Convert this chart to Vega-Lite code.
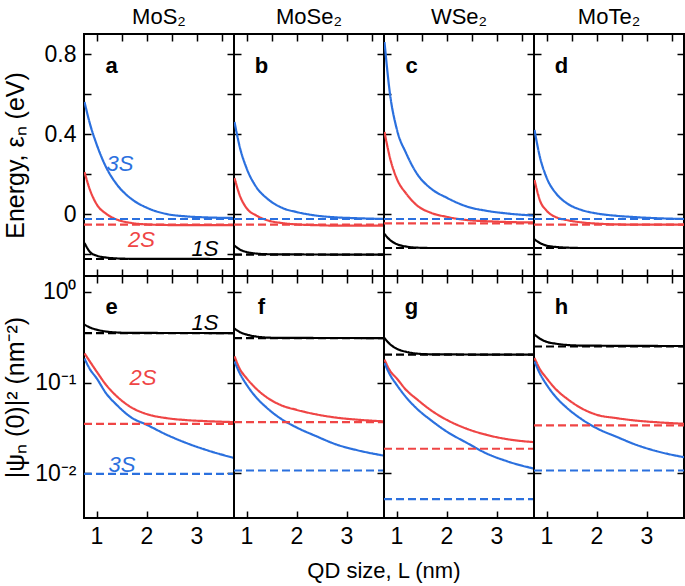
{
"$schema":"https://vega.github.io/schema/vega-lite/v6.json",
"background":"white",
"padding":{"left":2,"top":5,"right":1,"bottom":2},
"title":{"text":"QD size,  L (nm)","orient":"bottom","anchor":"middle","frame":"bounds","dx":40,"fontSize":22,"fontWeight":"normal","offset":12},
"config":{
 "font":"Liberation Sans",
 "view":{"stroke":"black","strokeWidth":2},
 "axis":{"grid":false,"domain":false,"ticks":true,"tickSize":-7,"tickWidth":1.5,"tickColor":"black","labelFontSize":23,"labelColor":"black","titleFontSize":25,"titleColor":"black","titleFontWeight":"normal"},
 "title":{"fontSize":22,"fontWeight":"normal","color":"black","offset":4},
 "concat":{"spacing":0}
},
"datasets":{
"lab":[
{"m":"MoS2","q":"E","k":"l","s":"1S","L":1.3,"v":0.74,"txt":"a"},
{"m":"MoSe2","q":"E","k":"l","s":"1S","L":1.3,"v":0.74,"txt":"b"},
{"m":"WSe2","q":"E","k":"l","s":"1S","L":1.3,"v":0.74,"txt":"c"},
{"m":"MoTe2","q":"E","k":"l","s":"1S","L":1.3,"v":0.74,"txt":"d"},
{"m":"MoS2","q":"P","k":"l","s":"1S","L":1.3,"v":0.69,"txt":"e"},
{"m":"MoSe2","q":"P","k":"l","s":"1S","L":1.3,"v":0.69,"txt":"f"},
{"m":"WSe2","q":"P","k":"l","s":"1S","L":1.3,"v":0.69,"txt":"g"},
{"m":"MoTe2","q":"P","k":"l","s":"1S","L":1.3,"v":0.69,"txt":"h"},
{"m":"MoS2","q":"E","k":"s","s":"3S","L":1.47,"v":0.25,"txt":"3S"},
{"m":"MoS2","q":"E","k":"s","s":"2S","L":1.9,"v":-0.13,"txt":"2S"},
{"m":"MoS2","q":"E","k":"s","s":"1S","L":3.17,"v":-0.175,"txt":"1S"},
{"m":"MoS2","q":"P","k":"s","s":"1S","L":3.17,"v":0.455,"txt":"1S"},
{"m":"MoS2","q":"P","k":"s","s":"2S","L":1.93,"v":0.112,"txt":"2S"},
{"m":"MoS2","q":"P","k":"s","s":"3S","L":1.51,"v":0.0124,"txt":"3S"}
],
"c":[
{"m":"MoS2","q":"E","s":"3S","t":"s","L":0.76,"v":0.56},{"m":"MoS2","q":"E","s":"3S","t":"s","L":0.87,"v":0.45},{"m":"MoS2","q":"E","s":"3S","t":"s","L":1.0,"v":0.35},{"m":"MoS2","q":"E","s":"3S","t":"s","L":1.2,"v":0.23},{"m":"MoS2","q":"E","s":"3S","t":"s","L":1.4,"v":0.15},{"m":"MoS2","q":"E","s":"3S","t":"s","L":1.7,"v":0.075},{"m":"MoS2","q":"E","s":"3S","t":"s","L":2.0,"v":0.032},{"m":"MoS2","q":"E","s":"3S","t":"s","L":2.4,"v":0.0},{"m":"MoS2","q":"E","s":"3S","t":"s","L":2.8,"v":-0.012},{"m":"MoS2","q":"E","s":"3S","t":"s","L":3.2,"v":-0.017},{"m":"MoS2","q":"E","s":"3S","t":"s","L":3.75,"v":-0.02},
{"m":"MoS2","q":"E","s":"2S","t":"s","L":0.76,"v":0.21},{"m":"MoS2","q":"E","s":"2S","t":"s","L":0.87,"v":0.12},{"m":"MoS2","q":"E","s":"2S","t":"s","L":1.0,"v":0.05},{"m":"MoS2","q":"E","s":"2S","t":"s","L":1.2,"v":0.0},{"m":"MoS2","q":"E","s":"2S","t":"s","L":1.4,"v":-0.027},{"m":"MoS2","q":"E","s":"2S","t":"s","L":1.7,"v":-0.045},{"m":"MoS2","q":"E","s":"2S","t":"s","L":2.0,"v":-0.052},{"m":"MoS2","q":"E","s":"2S","t":"s","L":2.4,"v":-0.055},{"m":"MoS2","q":"E","s":"2S","t":"s","L":2.8,"v":-0.056},{"m":"MoS2","q":"E","s":"2S","t":"s","L":3.2,"v":-0.056},{"m":"MoS2","q":"E","s":"2S","t":"s","L":3.75,"v":-0.056},
{"m":"MoS2","q":"E","s":"1S","t":"s","L":0.76,"v":-0.145},{"m":"MoS2","q":"E","s":"1S","t":"s","L":0.87,"v":-0.19},{"m":"MoS2","q":"E","s":"1S","t":"s","L":1.0,"v":-0.208},{"m":"MoS2","q":"E","s":"1S","t":"s","L":1.2,"v":-0.218},{"m":"MoS2","q":"E","s":"1S","t":"s","L":1.4,"v":-0.222},{"m":"MoS2","q":"E","s":"1S","t":"s","L":1.7,"v":-0.224},{"m":"MoS2","q":"E","s":"1S","t":"s","L":3.75,"v":-0.225},
{"m":"MoSe2","q":"E","s":"3S","t":"s","L":0.76,"v":0.46},{"m":"MoSe2","q":"E","s":"3S","t":"s","L":0.87,"v":0.33},{"m":"MoSe2","q":"E","s":"3S","t":"s","L":1.0,"v":0.23},{"m":"MoSe2","q":"E","s":"3S","t":"s","L":1.2,"v":0.133},{"m":"MoSe2","q":"E","s":"3S","t":"s","L":1.4,"v":0.08},{"m":"MoSe2","q":"E","s":"3S","t":"s","L":1.7,"v":0.032},{"m":"MoSe2","q":"E","s":"3S","t":"s","L":2.0,"v":0.01},{"m":"MoSe2","q":"E","s":"3S","t":"s","L":2.4,"v":-0.008},{"m":"MoSe2","q":"E","s":"3S","t":"s","L":2.8,"v":-0.017},{"m":"MoSe2","q":"E","s":"3S","t":"s","L":3.2,"v":-0.021},{"m":"MoSe2","q":"E","s":"3S","t":"s","L":3.75,"v":-0.025},
{"m":"MoSe2","q":"E","s":"2S","t":"s","L":0.76,"v":0.18},{"m":"MoSe2","q":"E","s":"2S","t":"s","L":0.87,"v":0.09},{"m":"MoSe2","q":"E","s":"2S","t":"s","L":1.0,"v":0.03},{"m":"MoSe2","q":"E","s":"2S","t":"s","L":1.2,"v":-0.008},{"m":"MoSe2","q":"E","s":"2S","t":"s","L":1.4,"v":-0.03},{"m":"MoSe2","q":"E","s":"2S","t":"s","L":1.7,"v":-0.045},{"m":"MoSe2","q":"E","s":"2S","t":"s","L":2.0,"v":-0.052},{"m":"MoSe2","q":"E","s":"2S","t":"s","L":2.4,"v":-0.056},{"m":"MoSe2","q":"E","s":"2S","t":"s","L":2.8,"v":-0.058},{"m":"MoSe2","q":"E","s":"2S","t":"s","L":3.2,"v":-0.058},{"m":"MoSe2","q":"E","s":"2S","t":"s","L":3.75,"v":-0.058},
{"m":"MoSe2","q":"E","s":"1S","t":"s","L":0.76,"v":-0.158},{"m":"MoSe2","q":"E","s":"1S","t":"s","L":0.87,"v":-0.178},{"m":"MoSe2","q":"E","s":"1S","t":"s","L":1.0,"v":-0.19},{"m":"MoSe2","q":"E","s":"1S","t":"s","L":1.2,"v":-0.198},{"m":"MoSe2","q":"E","s":"1S","t":"s","L":1.4,"v":-0.201},{"m":"MoSe2","q":"E","s":"1S","t":"s","L":1.7,"v":-0.202},{"m":"MoSe2","q":"E","s":"1S","t":"s","L":3.75,"v":-0.203},
{"m":"WSe2","q":"E","s":"3S","t":"s","L":0.76,"v":0.86},{"m":"WSe2","q":"E","s":"3S","t":"s","L":0.87,"v":0.6},{"m":"WSe2","q":"E","s":"3S","t":"s","L":1.0,"v":0.43},{"m":"WSe2","q":"E","s":"3S","t":"s","L":1.2,"v":0.3},{"m":"WSe2","q":"E","s":"3S","t":"s","L":1.4,"v":0.205},{"m":"WSe2","q":"E","s":"3S","t":"s","L":1.7,"v":0.125},{"m":"WSe2","q":"E","s":"3S","t":"s","L":2.0,"v":0.082},{"m":"WSe2","q":"E","s":"3S","t":"s","L":2.4,"v":0.038},{"m":"WSe2","q":"E","s":"3S","t":"s","L":2.8,"v":0.016},{"m":"WSe2","q":"E","s":"3S","t":"s","L":3.2,"v":0.003},{"m":"WSe2","q":"E","s":"3S","t":"s","L":3.75,"v":-0.008},
{"m":"WSe2","q":"E","s":"2S","t":"s","L":0.76,"v":0.41},{"m":"WSe2","q":"E","s":"2S","t":"s","L":0.87,"v":0.28},{"m":"WSe2","q":"E","s":"2S","t":"s","L":1.0,"v":0.18},{"m":"WSe2","q":"E","s":"2S","t":"s","L":1.2,"v":0.1},{"m":"WSe2","q":"E","s":"2S","t":"s","L":1.4,"v":0.045},{"m":"WSe2","q":"E","s":"2S","t":"s","L":1.7,"v":0.005},{"m":"WSe2","q":"E","s":"2S","t":"s","L":2.0,"v":-0.014},{"m":"WSe2","q":"E","s":"2S","t":"s","L":2.4,"v":-0.03},{"m":"WSe2","q":"E","s":"2S","t":"s","L":2.8,"v":-0.036},{"m":"WSe2","q":"E","s":"2S","t":"s","L":3.2,"v":-0.04},{"m":"WSe2","q":"E","s":"2S","t":"s","L":3.75,"v":-0.042},
{"m":"WSe2","q":"E","s":"1S","t":"s","L":0.76,"v":-0.1},{"m":"WSe2","q":"E","s":"1S","t":"s","L":0.87,"v":-0.13},{"m":"WSe2","q":"E","s":"1S","t":"s","L":1.0,"v":-0.15},{"m":"WSe2","q":"E","s":"1S","t":"s","L":1.2,"v":-0.163},{"m":"WSe2","q":"E","s":"1S","t":"s","L":1.4,"v":-0.168},{"m":"WSe2","q":"E","s":"1S","t":"s","L":1.7,"v":-0.17},{"m":"WSe2","q":"E","s":"1S","t":"s","L":3.75,"v":-0.17},
{"m":"MoTe2","q":"E","s":"3S","t":"s","L":0.76,"v":0.42},{"m":"MoTe2","q":"E","s":"3S","t":"s","L":0.87,"v":0.283},{"m":"MoTe2","q":"E","s":"3S","t":"s","L":1.0,"v":0.183},{"m":"MoTe2","q":"E","s":"3S","t":"s","L":1.2,"v":0.1},{"m":"MoTe2","q":"E","s":"3S","t":"s","L":1.4,"v":0.055},{"m":"MoTe2","q":"E","s":"3S","t":"s","L":1.7,"v":0.02},{"m":"MoTe2","q":"E","s":"3S","t":"s","L":2.0,"v":0.003},{"m":"MoTe2","q":"E","s":"3S","t":"s","L":2.4,"v":-0.009},{"m":"MoTe2","q":"E","s":"3S","t":"s","L":2.8,"v":-0.016},{"m":"MoTe2","q":"E","s":"3S","t":"s","L":3.2,"v":-0.021},{"m":"MoTe2","q":"E","s":"3S","t":"s","L":3.75,"v":-0.025},
{"m":"MoTe2","q":"E","s":"2S","t":"s","L":0.76,"v":0.17},{"m":"MoTe2","q":"E","s":"2S","t":"s","L":0.87,"v":0.067},{"m":"MoTe2","q":"E","s":"2S","t":"s","L":1.0,"v":0.017},{"m":"MoTe2","q":"E","s":"2S","t":"s","L":1.2,"v":-0.017},{"m":"MoTe2","q":"E","s":"2S","t":"s","L":1.4,"v":-0.03},{"m":"MoTe2","q":"E","s":"2S","t":"s","L":1.7,"v":-0.042},{"m":"MoTe2","q":"E","s":"2S","t":"s","L":2.0,"v":-0.048},{"m":"MoTe2","q":"E","s":"2S","t":"s","L":2.4,"v":-0.052},{"m":"MoTe2","q":"E","s":"2S","t":"s","L":2.8,"v":-0.053},{"m":"MoTe2","q":"E","s":"2S","t":"s","L":3.2,"v":-0.053},{"m":"MoTe2","q":"E","s":"2S","t":"s","L":3.75,"v":-0.053},
{"m":"MoTe2","q":"E","s":"1S","t":"s","L":0.76,"v":-0.127},{"m":"MoTe2","q":"E","s":"1S","t":"s","L":0.87,"v":-0.145},{"m":"MoTe2","q":"E","s":"1S","t":"s","L":1.0,"v":-0.158},{"m":"MoTe2","q":"E","s":"1S","t":"s","L":1.2,"v":-0.165},{"m":"MoTe2","q":"E","s":"1S","t":"s","L":1.4,"v":-0.168},{"m":"MoTe2","q":"E","s":"1S","t":"s","L":1.7,"v":-0.17},{"m":"MoTe2","q":"E","s":"1S","t":"s","L":3.75,"v":-0.17},
{"m":"MoS2","q":"E","s":"1S","t":"d","L":0.75,"v":-0.225},{"m":"MoS2","q":"E","s":"1S","t":"d","L":3.75,"v":-0.225},{"m":"MoS2","q":"E","s":"2S","t":"d","L":0.75,"v":-0.053},{"m":"MoS2","q":"E","s":"2S","t":"d","L":3.75,"v":-0.053},{"m":"MoS2","q":"E","s":"3S","t":"d","L":0.75,"v":-0.025},{"m":"MoS2","q":"E","s":"3S","t":"d","L":3.75,"v":-0.025},
{"m":"MoSe2","q":"E","s":"1S","t":"d","L":0.75,"v":-0.203},{"m":"MoSe2","q":"E","s":"1S","t":"d","L":3.75,"v":-0.203},{"m":"MoSe2","q":"E","s":"2S","t":"d","L":0.75,"v":-0.053},{"m":"MoSe2","q":"E","s":"2S","t":"d","L":3.75,"v":-0.053},{"m":"MoSe2","q":"E","s":"3S","t":"d","L":0.75,"v":-0.025},{"m":"MoSe2","q":"E","s":"3S","t":"d","L":3.75,"v":-0.025},
{"m":"WSe2","q":"E","s":"1S","t":"d","L":0.75,"v":-0.17},{"m":"WSe2","q":"E","s":"1S","t":"d","L":3.75,"v":-0.17},{"m":"WSe2","q":"E","s":"2S","t":"d","L":0.75,"v":-0.047},{"m":"WSe2","q":"E","s":"2S","t":"d","L":3.75,"v":-0.047},{"m":"WSe2","q":"E","s":"3S","t":"d","L":0.75,"v":-0.025},{"m":"WSe2","q":"E","s":"3S","t":"d","L":3.75,"v":-0.025},
{"m":"MoTe2","q":"E","s":"1S","t":"d","L":0.75,"v":-0.17},{"m":"MoTe2","q":"E","s":"1S","t":"d","L":3.75,"v":-0.17},{"m":"MoTe2","q":"E","s":"2S","t":"d","L":0.75,"v":-0.053},{"m":"MoTe2","q":"E","s":"2S","t":"d","L":3.75,"v":-0.053},{"m":"MoTe2","q":"E","s":"3S","t":"d","L":0.75,"v":-0.025},{"m":"MoTe2","q":"E","s":"3S","t":"d","L":3.75,"v":-0.025},
{"m":"MoS2","q":"P","s":"1S","t":"s","L":0.76,"v":0.436},{"m":"MoS2","q":"P","s":"1S","t":"s","L":0.87,"v":0.405},{"m":"MoS2","q":"P","s":"1S","t":"s","L":1.0,"v":0.384},{"m":"MoS2","q":"P","s":"1S","t":"s","L":1.2,"v":0.365},{"m":"MoS2","q":"P","s":"1S","t":"s","L":1.4,"v":0.357},{"m":"MoS2","q":"P","s":"1S","t":"s","L":1.7,"v":0.353},{"m":"MoS2","q":"P","s":"1S","t":"s","L":3.75,"v":0.352},
{"m":"MoS2","q":"P","s":"2S","t":"s","L":0.76,"v":0.21},{"m":"MoS2","q":"P","s":"2S","t":"s","L":0.87,"v":0.17},{"m":"MoS2","q":"P","s":"2S","t":"s","L":1.0,"v":0.133},{"m":"MoS2","q":"P","s":"2S","t":"s","L":1.2,"v":0.093},{"m":"MoS2","q":"P","s":"2S","t":"s","L":1.4,"v":0.071},{"m":"MoS2","q":"P","s":"2S","t":"s","L":1.7,"v":0.053},{"m":"MoS2","q":"P","s":"2S","t":"s","L":2.0,"v":0.045},{"m":"MoS2","q":"P","s":"2S","t":"s","L":2.4,"v":0.0405},{"m":"MoS2","q":"P","s":"2S","t":"s","L":2.8,"v":0.0385},{"m":"MoS2","q":"P","s":"2S","t":"s","L":3.2,"v":0.0375},{"m":"MoS2","q":"P","s":"2S","t":"s","L":3.75,"v":0.0366},
{"m":"MoS2","q":"P","s":"3S","t":"s","L":0.76,"v":0.184},{"m":"MoS2","q":"P","s":"3S","t":"s","L":0.87,"v":0.14},{"m":"MoS2","q":"P","s":"3S","t":"s","L":1.0,"v":0.112},{"m":"MoS2","q":"P","s":"3S","t":"s","L":1.2,"v":0.075},{"m":"MoS2","q":"P","s":"3S","t":"s","L":1.4,"v":0.057},{"m":"MoS2","q":"P","s":"3S","t":"s","L":1.7,"v":0.041},{"m":"MoS2","q":"P","s":"3S","t":"s","L":2.0,"v":0.0343},{"m":"MoS2","q":"P","s":"3S","t":"s","L":2.4,"v":0.0266},{"m":"MoS2","q":"P","s":"3S","t":"s","L":2.8,"v":0.0215},{"m":"MoS2","q":"P","s":"3S","t":"s","L":3.2,"v":0.018},{"m":"MoS2","q":"P","s":"3S","t":"s","L":3.75,"v":0.0147},
{"m":"MoSe2","q":"P","s":"1S","t":"s","L":0.76,"v":0.394},{"m":"MoSe2","q":"P","s":"1S","t":"s","L":0.87,"v":0.36},{"m":"MoSe2","q":"P","s":"1S","t":"s","L":1.0,"v":0.339},{"m":"MoSe2","q":"P","s":"1S","t":"s","L":1.2,"v":0.322},{"m":"MoSe2","q":"P","s":"1S","t":"s","L":1.4,"v":0.314},{"m":"MoSe2","q":"P","s":"1S","t":"s","L":1.7,"v":0.311},{"m":"MoSe2","q":"P","s":"1S","t":"s","L":3.75,"v":0.31},
{"m":"MoSe2","q":"P","s":"2S","t":"s","L":0.76,"v":0.195},{"m":"MoSe2","q":"P","s":"2S","t":"s","L":0.87,"v":0.14},{"m":"MoSe2","q":"P","s":"2S","t":"s","L":1.0,"v":0.112},{"m":"MoSe2","q":"P","s":"2S","t":"s","L":1.2,"v":0.085},{"m":"MoSe2","q":"P","s":"2S","t":"s","L":1.4,"v":0.069},{"m":"MoSe2","q":"P","s":"2S","t":"s","L":1.7,"v":0.056},{"m":"MoSe2","q":"P","s":"2S","t":"s","L":2.0,"v":0.05},{"m":"MoSe2","q":"P","s":"2S","t":"s","L":2.4,"v":0.0445},{"m":"MoSe2","q":"P","s":"2S","t":"s","L":2.8,"v":0.041},{"m":"MoSe2","q":"P","s":"2S","t":"s","L":3.2,"v":0.039},{"m":"MoSe2","q":"P","s":"2S","t":"s","L":3.75,"v":0.0373},
{"m":"MoSe2","q":"P","s":"3S","t":"s","L":0.76,"v":0.171},{"m":"MoSe2","q":"P","s":"3S","t":"s","L":0.87,"v":0.125},{"m":"MoSe2","q":"P","s":"3S","t":"s","L":1.0,"v":0.095},{"m":"MoSe2","q":"P","s":"3S","t":"s","L":1.2,"v":0.068},{"m":"MoSe2","q":"P","s":"3S","t":"s","L":1.4,"v":0.053},{"m":"MoSe2","q":"P","s":"3S","t":"s","L":1.7,"v":0.0395},{"m":"MoSe2","q":"P","s":"3S","t":"s","L":2.0,"v":0.032},{"m":"MoSe2","q":"P","s":"3S","t":"s","L":2.4,"v":0.0255},{"m":"MoSe2","q":"P","s":"3S","t":"s","L":2.8,"v":0.0207},{"m":"MoSe2","q":"P","s":"3S","t":"s","L":3.2,"v":0.018},{"m":"MoSe2","q":"P","s":"3S","t":"s","L":3.75,"v":0.0156},
{"m":"WSe2","q":"P","s":"1S","t":"s","L":0.76,"v":0.31},{"m":"WSe2","q":"P","s":"1S","t":"s","L":0.87,"v":0.265},{"m":"WSe2","q":"P","s":"1S","t":"s","L":1.0,"v":0.237},{"m":"WSe2","q":"P","s":"1S","t":"s","L":1.2,"v":0.218},{"m":"WSe2","q":"P","s":"1S","t":"s","L":1.4,"v":0.209},{"m":"WSe2","q":"P","s":"1S","t":"s","L":1.7,"v":0.205},{"m":"WSe2","q":"P","s":"1S","t":"s","L":3.75,"v":0.203},
{"m":"WSe2","q":"P","s":"2S","t":"s","L":0.76,"v":0.179},{"m":"WSe2","q":"P","s":"2S","t":"s","L":0.87,"v":0.135},{"m":"WSe2","q":"P","s":"2S","t":"s","L":1.0,"v":0.112},{"m":"WSe2","q":"P","s":"2S","t":"s","L":1.2,"v":0.082},{"m":"WSe2","q":"P","s":"2S","t":"s","L":1.4,"v":0.066},{"m":"WSe2","q":"P","s":"2S","t":"s","L":1.7,"v":0.049},{"m":"WSe2","q":"P","s":"2S","t":"s","L":2.0,"v":0.0389},{"m":"WSe2","q":"P","s":"2S","t":"s","L":2.4,"v":0.031},{"m":"WSe2","q":"P","s":"2S","t":"s","L":2.8,"v":0.0265},{"m":"WSe2","q":"P","s":"2S","t":"s","L":3.2,"v":0.0238},{"m":"WSe2","q":"P","s":"2S","t":"s","L":3.75,"v":0.022},
{"m":"WSe2","q":"P","s":"3S","t":"s","L":0.76,"v":0.164},{"m":"WSe2","q":"P","s":"3S","t":"s","L":0.87,"v":0.122},{"m":"WSe2","q":"P","s":"3S","t":"s","L":1.0,"v":0.095},{"m":"WSe2","q":"P","s":"3S","t":"s","L":1.2,"v":0.068},{"m":"WSe2","q":"P","s":"3S","t":"s","L":1.4,"v":0.052},{"m":"WSe2","q":"P","s":"3S","t":"s","L":1.7,"v":0.038},{"m":"WSe2","q":"P","s":"3S","t":"s","L":2.0,"v":0.0289},{"m":"WSe2","q":"P","s":"3S","t":"s","L":2.4,"v":0.0217},{"m":"WSe2","q":"P","s":"3S","t":"s","L":2.8,"v":0.0165},{"m":"WSe2","q":"P","s":"3S","t":"s","L":3.2,"v":0.0136},{"m":"WSe2","q":"P","s":"3S","t":"s","L":3.75,"v":0.0112},
{"m":"MoTe2","q":"P","s":"1S","t":"s","L":0.76,"v":0.339},{"m":"MoTe2","q":"P","s":"1S","t":"s","L":0.87,"v":0.305},{"m":"MoTe2","q":"P","s":"1S","t":"s","L":1.0,"v":0.282},{"m":"MoTe2","q":"P","s":"1S","t":"s","L":1.2,"v":0.268},{"m":"MoTe2","q":"P","s":"1S","t":"s","L":1.4,"v":0.26},{"m":"MoTe2","q":"P","s":"1S","t":"s","L":1.7,"v":0.256},{"m":"MoTe2","q":"P","s":"1S","t":"s","L":3.75,"v":0.253},
{"m":"MoTe2","q":"P","s":"2S","t":"s","L":0.76,"v":0.187},{"m":"MoTe2","q":"P","s":"2S","t":"s","L":0.87,"v":0.14},{"m":"MoTe2","q":"P","s":"2S","t":"s","L":1.0,"v":0.112},{"m":"MoTe2","q":"P","s":"2S","t":"s","L":1.2,"v":0.083},{"m":"MoTe2","q":"P","s":"2S","t":"s","L":1.4,"v":0.067},{"m":"MoTe2","q":"P","s":"2S","t":"s","L":1.7,"v":0.052},{"m":"MoTe2","q":"P","s":"2S","t":"s","L":2.0,"v":0.0442},{"m":"MoTe2","q":"P","s":"2S","t":"s","L":2.4,"v":0.0405},{"m":"MoTe2","q":"P","s":"2S","t":"s","L":2.8,"v":0.038},{"m":"MoTe2","q":"P","s":"2S","t":"s","L":3.2,"v":0.0365},{"m":"MoTe2","q":"P","s":"2S","t":"s","L":3.75,"v":0.0351},
{"m":"MoTe2","q":"P","s":"3S","t":"s","L":0.76,"v":0.171},{"m":"MoTe2","q":"P","s":"3S","t":"s","L":0.87,"v":0.125},{"m":"MoTe2","q":"P","s":"3S","t":"s","L":1.0,"v":0.095},{"m":"MoTe2","q":"P","s":"3S","t":"s","L":1.2,"v":0.068},{"m":"MoTe2","q":"P","s":"3S","t":"s","L":1.4,"v":0.053},{"m":"MoTe2","q":"P","s":"3S","t":"s","L":1.7,"v":0.0395},{"m":"MoTe2","q":"P","s":"3S","t":"s","L":2.0,"v":0.0314},{"m":"MoTe2","q":"P","s":"3S","t":"s","L":2.4,"v":0.0252},{"m":"MoTe2","q":"P","s":"3S","t":"s","L":2.8,"v":0.0205},{"m":"MoTe2","q":"P","s":"3S","t":"s","L":3.2,"v":0.0175},{"m":"MoTe2","q":"P","s":"3S","t":"s","L":3.75,"v":0.015},
{"m":"MoS2","q":"P","s":"1S","t":"d","L":0.75,"v":0.352},{"m":"MoS2","q":"P","s":"1S","t":"d","L":3.75,"v":0.352},{"m":"MoS2","q":"P","s":"2S","t":"d","L":0.75,"v":0.035},{"m":"MoS2","q":"P","s":"2S","t":"d","L":3.75,"v":0.035},{"m":"MoS2","q":"P","s":"3S","t":"d","L":0.75,"v":0.0098},{"m":"MoS2","q":"P","s":"3S","t":"d","L":3.75,"v":0.0098},
{"m":"MoSe2","q":"P","s":"1S","t":"d","L":0.75,"v":0.31},{"m":"MoSe2","q":"P","s":"1S","t":"d","L":3.75,"v":0.31},{"m":"MoSe2","q":"P","s":"2S","t":"d","L":0.75,"v":0.0366},{"m":"MoSe2","q":"P","s":"2S","t":"d","L":3.75,"v":0.0366},{"m":"MoSe2","q":"P","s":"3S","t":"d","L":0.75,"v":0.0107},{"m":"MoSe2","q":"P","s":"3S","t":"d","L":3.75,"v":0.0107},
{"m":"WSe2","q":"P","s":"1S","t":"d","L":0.75,"v":0.203},{"m":"WSe2","q":"P","s":"1S","t":"d","L":3.75,"v":0.203},{"m":"WSe2","q":"P","s":"2S","t":"d","L":0.75,"v":0.0186},{"m":"WSe2","q":"P","s":"2S","t":"d","L":3.75,"v":0.0186},{"m":"WSe2","q":"P","s":"3S","t":"d","L":0.75,"v":0.00516},{"m":"WSe2","q":"P","s":"3S","t":"d","L":3.75,"v":0.00516},
{"m":"MoTe2","q":"P","s":"1S","t":"d","L":0.75,"v":0.25},{"m":"MoTe2","q":"P","s":"1S","t":"d","L":3.75,"v":0.25},{"m":"MoTe2","q":"P","s":"2S","t":"d","L":0.75,"v":0.0337},{"m":"MoTe2","q":"P","s":"2S","t":"d","L":3.75,"v":0.0337},{"m":"MoTe2","q":"P","s":"3S","t":"d","L":0.75,"v":0.0107},{"m":"MoTe2","q":"P","s":"3S","t":"d","L":3.75,"v":0.0107}
]},
"columns":4,
"spacing":0,
"bounds":"flush",
"concat":[
{"width":150,"height":242,"title":{"text":"MoS₂"},"resolve":{"axis":{"x":"independent","y":"independent"}},"layer":[
 {"data":{"name":"c"},"transform":[{"filter":"datum.m=='MoS2'&&datum.q=='E'"}],"mark":{"type":"line","strokeWidth":2.2,"interpolate":"monotone","clip":true},"encoding":{
  "x":{"field":"L","type":"quantitative","scale":{"domain":[0.75,3.75],"nice":false},"axis":{"orient":"bottom","values":[1,1.5,2,2.5,3,3.5],"labels":false,"title":null}},
  "y":{"field":"v","type":"quantitative","scale":{"domain":[-0.31,0.9],"nice":false,"zero":false},"axis":{"orient":"left","values":[-0.2,0,0.2,0.4,0.6,0.8],"labelExpr":"datum.value==0.8?'0.8':datum.value==0.4?'0.4':datum.value==0?'0':''","labelPadding":15,"title":"Energy,  εₙ (eV)","titlePadding":6,"minExtent":50,"maxExtent":50}},
  "color":{"field":"s","type":"nominal","scale":{"domain":["1S","2S","3S"],"range":["#000000","#ef4545","#2b70de"]},"legend":null},
  "strokeDash":{"field":"t","type":"nominal","scale":{"domain":["s","d"],"range":[[1,0],[8,4]]},"legend":null}}},
 {"data":{"name":"lab"},"transform":[{"filter":"datum.m=='MoS2'&&datum.q=='E'&&datum.k=='l'"}],"mark":{"type":"text","fontSize":22,"fontWeight":"bold"},"encoding":{
  "x":{"field":"L","type":"quantitative","scale":{"domain":[0.75,3.75],"nice":false},"axis":{"orient":"top","values":[1,1.5,2,2.5,3,3.5],"labels":false,"title":null}},
  "y":{"field":"v","type":"quantitative","scale":{"domain":[-0.31,0.9],"nice":false,"zero":false},"axis":{"orient":"right","values":[-0.2,0,0.2,0.4,0.6,0.8],"labels":false,"title":null}},
  "text":{"field":"txt"}}},
 {"data":{"name":"lab"},"transform":[{"filter":"datum.m=='MoS2'&&datum.q=='E'&&datum.k=='s'"}],"mark":{"type":"text","fontSize":22,"fontStyle":"italic"},"encoding":{
  "x":{"field":"L","type":"quantitative","scale":{"domain":[0.75,3.75],"nice":false},"axis":null},
  "y":{"field":"v","type":"quantitative","scale":{"domain":[-0.31,0.9],"nice":false,"zero":false},"axis":null},
  "text":{"field":"txt"},
  "color":{"field":"s","type":"nominal","scale":{"domain":["1S","2S","3S"],"range":["#000000","#ef4545","#2b70de"]},"legend":null}}}
]},
{"width":150,"height":242,"title":{"text":"MoSe₂"},"resolve":{"axis":{"x":"independent","y":"independent"}},"layer":[
 {"data":{"name":"c"},"transform":[{"filter":"datum.m=='MoSe2'&&datum.q=='E'"}],"mark":{"type":"line","strokeWidth":2.2,"interpolate":"monotone","clip":true},"encoding":{
  "x":{"field":"L","type":"quantitative","scale":{"domain":[0.75,3.75],"nice":false},"axis":{"orient":"bottom","values":[1,1.5,2,2.5,3,3.5],"labels":false,"title":null}},
  "y":{"field":"v","type":"quantitative","scale":{"domain":[-0.31,0.9],"nice":false,"zero":false},"axis":{"orient":"left","values":[-0.2,0,0.2,0.4,0.6,0.8],"labels":false,"title":null}},
  "color":{"field":"s","type":"nominal","scale":{"domain":["1S","2S","3S"],"range":["#000000","#ef4545","#2b70de"]},"legend":null},
  "strokeDash":{"field":"t","type":"nominal","scale":{"domain":["s","d"],"range":[[1,0],[8,4]]},"legend":null}}},
 {"data":{"name":"lab"},"transform":[{"filter":"datum.m=='MoSe2'&&datum.q=='E'&&datum.k=='l'"}],"mark":{"type":"text","fontSize":22,"fontWeight":"bold"},"encoding":{
  "x":{"field":"L","type":"quantitative","scale":{"domain":[0.75,3.75],"nice":false},"axis":{"orient":"top","values":[1,1.5,2,2.5,3,3.5],"labels":false,"title":null}},
  "y":{"field":"v","type":"quantitative","scale":{"domain":[-0.31,0.9],"nice":false,"zero":false},"axis":{"orient":"right","values":[-0.2,0,0.2,0.4,0.6,0.8],"labels":false,"title":null}},
  "text":{"field":"txt"}}}
]},
{"width":150,"height":242,"title":{"text":"WSe₂"},"resolve":{"axis":{"x":"independent","y":"independent"}},"layer":[
 {"data":{"name":"c"},"transform":[{"filter":"datum.m=='WSe2'&&datum.q=='E'"}],"mark":{"type":"line","strokeWidth":2.2,"interpolate":"monotone","clip":true},"encoding":{
  "x":{"field":"L","type":"quantitative","scale":{"domain":[0.75,3.75],"nice":false},"axis":{"orient":"bottom","values":[1,1.5,2,2.5,3,3.5],"labels":false,"title":null}},
  "y":{"field":"v","type":"quantitative","scale":{"domain":[-0.31,0.9],"nice":false,"zero":false},"axis":{"orient":"left","values":[-0.2,0,0.2,0.4,0.6,0.8],"labels":false,"title":null}},
  "color":{"field":"s","type":"nominal","scale":{"domain":["1S","2S","3S"],"range":["#000000","#ef4545","#2b70de"]},"legend":null},
  "strokeDash":{"field":"t","type":"nominal","scale":{"domain":["s","d"],"range":[[1,0],[8,4]]},"legend":null}}},
 {"data":{"name":"lab"},"transform":[{"filter":"datum.m=='WSe2'&&datum.q=='E'&&datum.k=='l'"}],"mark":{"type":"text","fontSize":22,"fontWeight":"bold"},"encoding":{
  "x":{"field":"L","type":"quantitative","scale":{"domain":[0.75,3.75],"nice":false},"axis":{"orient":"top","values":[1,1.5,2,2.5,3,3.5],"labels":false,"title":null}},
  "y":{"field":"v","type":"quantitative","scale":{"domain":[-0.31,0.9],"nice":false,"zero":false},"axis":{"orient":"right","values":[-0.2,0,0.2,0.4,0.6,0.8],"labels":false,"title":null}},
  "text":{"field":"txt"}}}
]},
{"width":150,"height":242,"title":{"text":"MoTe₂"},"resolve":{"axis":{"x":"independent","y":"independent"}},"layer":[
 {"data":{"name":"c"},"transform":[{"filter":"datum.m=='MoTe2'&&datum.q=='E'"}],"mark":{"type":"line","strokeWidth":2.2,"interpolate":"monotone","clip":true},"encoding":{
  "x":{"field":"L","type":"quantitative","scale":{"domain":[0.75,3.75],"nice":false},"axis":{"orient":"bottom","values":[1,1.5,2,2.5,3,3.5],"labels":false,"title":null}},
  "y":{"field":"v","type":"quantitative","scale":{"domain":[-0.31,0.9],"nice":false,"zero":false},"axis":{"orient":"left","values":[-0.2,0,0.2,0.4,0.6,0.8],"labels":false,"title":null}},
  "color":{"field":"s","type":"nominal","scale":{"domain":["1S","2S","3S"],"range":["#000000","#ef4545","#2b70de"]},"legend":null},
  "strokeDash":{"field":"t","type":"nominal","scale":{"domain":["s","d"],"range":[[1,0],[8,4]]},"legend":null}}},
 {"data":{"name":"lab"},"transform":[{"filter":"datum.m=='MoTe2'&&datum.q=='E'&&datum.k=='l'"}],"mark":{"type":"text","fontSize":22,"fontWeight":"bold"},"encoding":{
  "x":{"field":"L","type":"quantitative","scale":{"domain":[0.75,3.75],"nice":false},"axis":{"orient":"top","values":[1,1.5,2,2.5,3,3.5],"labels":false,"title":null}},
  "y":{"field":"v","type":"quantitative","scale":{"domain":[-0.31,0.9],"nice":false,"zero":false},"axis":{"orient":"right","values":[-0.2,0,0.2,0.4,0.6,0.8],"labels":false,"title":null}},
  "text":{"field":"txt"}}}
]},
{"width":150,"height":242,"resolve":{"axis":{"x":"independent","y":"independent"}},"layer":[
 {"data":{"name":"c"},"transform":[{"filter":"datum.m=='MoS2'&&datum.q=='P'"}],"mark":{"type":"line","strokeWidth":2.2,"interpolate":"monotone","clip":true},"encoding":{
  "x":{"field":"L","type":"quantitative","scale":{"domain":[0.75,3.75],"nice":false},"axis":{"orient":"bottom","values":[1,1.5,2,2.5,3,3.5],"format":"d","labelExpr":"datum.value%1==0?datum.label:''","labelPadding":14,"title":null}},
  "y":{"field":"v","type":"quantitative","scale":{"type":"log","domain":[0.0032,1.5],"nice":false},"axis":{"orient":"left","values":[1,0.1,0.01],"labelExpr":"datum.value>0.5?'10⁰':datum.value>0.05?'10⁻¹':'10⁻²'","labelPadding":15,"title":"|ψₙ (0)|² (nm⁻²)","titlePadding":6,"minExtent":50,"maxExtent":50}},
  "color":{"field":"s","type":"nominal","scale":{"domain":["1S","2S","3S"],"range":["#000000","#ef4545","#2b70de"]},"legend":null},
  "strokeDash":{"field":"t","type":"nominal","scale":{"domain":["s","d"],"range":[[1,0],[8,4]]},"legend":null}}},
 {"data":{"name":"lab"},"transform":[{"filter":"datum.m=='MoS2'&&datum.q=='P'&&datum.k=='l'"}],"mark":{"type":"text","fontSize":22,"fontWeight":"bold"},"encoding":{
  "x":{"field":"L","type":"quantitative","scale":{"domain":[0.75,3.75],"nice":false},"axis":{"orient":"top","values":[1,1.5,2,2.5,3,3.5],"labels":false,"title":null}},
  "y":{"field":"v","type":"quantitative","scale":{"type":"log","domain":[0.0032,1.5],"nice":false},"axis":{"orient":"right","values":[1,0.1,0.01],"labels":false,"title":null}},
  "text":{"field":"txt"}}},
 {"data":{"name":"lab"},"transform":[{"filter":"datum.m=='MoS2'&&datum.q=='P'&&datum.k=='s'"}],"mark":{"type":"text","fontSize":22,"fontStyle":"italic"},"encoding":{
  "x":{"field":"L","type":"quantitative","scale":{"domain":[0.75,3.75],"nice":false},"axis":null},
  "y":{"field":"v","type":"quantitative","scale":{"type":"log","domain":[0.0032,1.5],"nice":false},"axis":null},
  "text":{"field":"txt"},
  "color":{"field":"s","type":"nominal","scale":{"domain":["1S","2S","3S"],"range":["#000000","#ef4545","#2b70de"]},"legend":null}}}
]},
{"width":150,"height":242,"resolve":{"axis":{"x":"independent","y":"independent"}},"layer":[
 {"data":{"name":"c"},"transform":[{"filter":"datum.m=='MoSe2'&&datum.q=='P'"}],"mark":{"type":"line","strokeWidth":2.2,"interpolate":"monotone","clip":true},"encoding":{
  "x":{"field":"L","type":"quantitative","scale":{"domain":[0.75,3.75],"nice":false},"axis":{"orient":"bottom","values":[1,1.5,2,2.5,3,3.5],"format":"d","labelExpr":"datum.value%1==0?datum.label:''","labelPadding":14,"title":null}},
  "y":{"field":"v","type":"quantitative","scale":{"type":"log","domain":[0.0032,1.5],"nice":false},"axis":{"orient":"left","values":[1,0.1,0.01],"labels":false,"title":null}},
  "color":{"field":"s","type":"nominal","scale":{"domain":["1S","2S","3S"],"range":["#000000","#ef4545","#2b70de"]},"legend":null},
  "strokeDash":{"field":"t","type":"nominal","scale":{"domain":["s","d"],"range":[[1,0],[8,4]]},"legend":null}}},
 {"data":{"name":"lab"},"transform":[{"filter":"datum.m=='MoSe2'&&datum.q=='P'&&datum.k=='l'"}],"mark":{"type":"text","fontSize":22,"fontWeight":"bold"},"encoding":{
  "x":{"field":"L","type":"quantitative","scale":{"domain":[0.75,3.75],"nice":false},"axis":{"orient":"top","values":[1,1.5,2,2.5,3,3.5],"labels":false,"title":null}},
  "y":{"field":"v","type":"quantitative","scale":{"type":"log","domain":[0.0032,1.5],"nice":false},"axis":{"orient":"right","values":[1,0.1,0.01],"labels":false,"title":null}},
  "text":{"field":"txt"}}}
]},
{"width":150,"height":242,"resolve":{"axis":{"x":"independent","y":"independent"}},"layer":[
 {"data":{"name":"c"},"transform":[{"filter":"datum.m=='WSe2'&&datum.q=='P'"}],"mark":{"type":"line","strokeWidth":2.2,"interpolate":"monotone","clip":true},"encoding":{
  "x":{"field":"L","type":"quantitative","scale":{"domain":[0.75,3.75],"nice":false},"axis":{"orient":"bottom","values":[1,1.5,2,2.5,3,3.5],"format":"d","labelExpr":"datum.value%1==0?datum.label:''","labelPadding":14,"title":null}},
  "y":{"field":"v","type":"quantitative","scale":{"type":"log","domain":[0.0032,1.5],"nice":false},"axis":{"orient":"left","values":[1,0.1,0.01],"labels":false,"title":null}},
  "color":{"field":"s","type":"nominal","scale":{"domain":["1S","2S","3S"],"range":["#000000","#ef4545","#2b70de"]},"legend":null},
  "strokeDash":{"field":"t","type":"nominal","scale":{"domain":["s","d"],"range":[[1,0],[8,4]]},"legend":null}}},
 {"data":{"name":"lab"},"transform":[{"filter":"datum.m=='WSe2'&&datum.q=='P'&&datum.k=='l'"}],"mark":{"type":"text","fontSize":22,"fontWeight":"bold"},"encoding":{
  "x":{"field":"L","type":"quantitative","scale":{"domain":[0.75,3.75],"nice":false},"axis":{"orient":"top","values":[1,1.5,2,2.5,3,3.5],"labels":false,"title":null}},
  "y":{"field":"v","type":"quantitative","scale":{"type":"log","domain":[0.0032,1.5],"nice":false},"axis":{"orient":"right","values":[1,0.1,0.01],"labels":false,"title":null}},
  "text":{"field":"txt"}}}
]},
{"width":150,"height":242,"resolve":{"axis":{"x":"independent","y":"independent"}},"layer":[
 {"data":{"name":"c"},"transform":[{"filter":"datum.m=='MoTe2'&&datum.q=='P'"}],"mark":{"type":"line","strokeWidth":2.2,"interpolate":"monotone","clip":true},"encoding":{
  "x":{"field":"L","type":"quantitative","scale":{"domain":[0.75,3.75],"nice":false},"axis":{"orient":"bottom","values":[1,1.5,2,2.5,3,3.5],"format":"d","labelExpr":"datum.value%1==0?datum.label:''","labelPadding":14,"title":null}},
  "y":{"field":"v","type":"quantitative","scale":{"type":"log","domain":[0.0032,1.5],"nice":false},"axis":{"orient":"left","values":[1,0.1,0.01],"labels":false,"title":null}},
  "color":{"field":"s","type":"nominal","scale":{"domain":["1S","2S","3S"],"range":["#000000","#ef4545","#2b70de"]},"legend":null},
  "strokeDash":{"field":"t","type":"nominal","scale":{"domain":["s","d"],"range":[[1,0],[8,4]]},"legend":null}}},
 {"data":{"name":"lab"},"transform":[{"filter":"datum.m=='MoTe2'&&datum.q=='P'&&datum.k=='l'"}],"mark":{"type":"text","fontSize":22,"fontWeight":"bold"},"encoding":{
  "x":{"field":"L","type":"quantitative","scale":{"domain":[0.75,3.75],"nice":false},"axis":{"orient":"top","values":[1,1.5,2,2.5,3,3.5],"labels":false,"title":null}},
  "y":{"field":"v","type":"quantitative","scale":{"type":"log","domain":[0.0032,1.5],"nice":false},"axis":{"orient":"right","values":[1,0.1,0.01],"labels":false,"title":null}},
  "text":{"field":"txt"}}}
]}
]
}
